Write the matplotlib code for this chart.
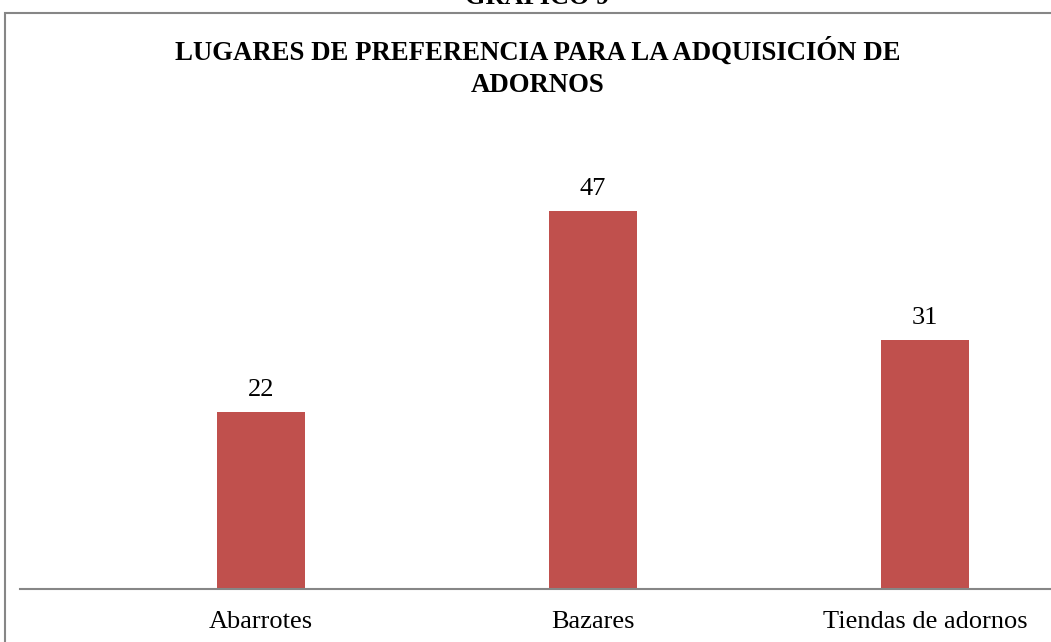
import matplotlib.pyplot as plt
from matplotlib.patches import Rectangle

categories = ["Abarrotes", "Bazares", "Tiendas de adornos"]
values = [22, 47, 31]
title_lines = ["LUGARES DE PREFERENCIA PARA LA ADQUISICIÓN DE", "ADORNOS"]

W, H = 1051, 642
plt.rcParams['font.family'] = ['Liberation Serif', 'DejaVu Serif']

fig = plt.figure(figsize=(W / 100, H / 100), dpi=100)

# outer chart frame (cropped on right and bottom)
fig.patches.append(Rectangle((5 / W, -0.1), 1.2, 1 - 13 / H + 0.1,
                             transform=fig.transFigure, fill=False,
                             edgecolor="#868686", linewidth=1.5))
# heading above the frame, mostly cut off in the original
fig.text(537 / W, 1 - 4 / H, "GRÁFICO 9", ha="center", va="baseline",
         fontsize=19, fontweight="bold")

px_per_unit = 8.04
ymax = 55
ax = fig.add_axes([20 / W, 53 / H, (W - 20) / W, ymax * px_per_unit / H])
x = list(range(len(categories)))
ax.bar(x, values, width=88 / 332, color="#C0504D")
ax.set_xlim((20 - 261) / 332, (W - 261) / 332)
ax.set_ylim(0, ymax)

for xi, v in zip(x, values):
    ax.annotate(str(v), (xi, v), xytext=(0, 11.5), textcoords="offset points",
                ha="center", va="baseline", fontsize=19)

ax.set_xticks(x)
ax.set_xticklabels(categories, fontsize=19)
ax.tick_params(axis="x", length=0, pad=16)
ax.set_yticks([])
for s in ["top", "right", "left"]:
    ax.spines[s].set_visible(False)
ax.spines["bottom"].set_color("#868686")
ax.spines["bottom"].set_linewidth(1.5)
ax.patch.set_alpha(0)

for line, base in zip(title_lines, [60, 92]):
    fig.text(538 / W, 1 - base / H, line, ha="center", va="baseline",
             fontsize=19.3, fontweight="bold")

fig.savefig("out.png", dpi=100)
